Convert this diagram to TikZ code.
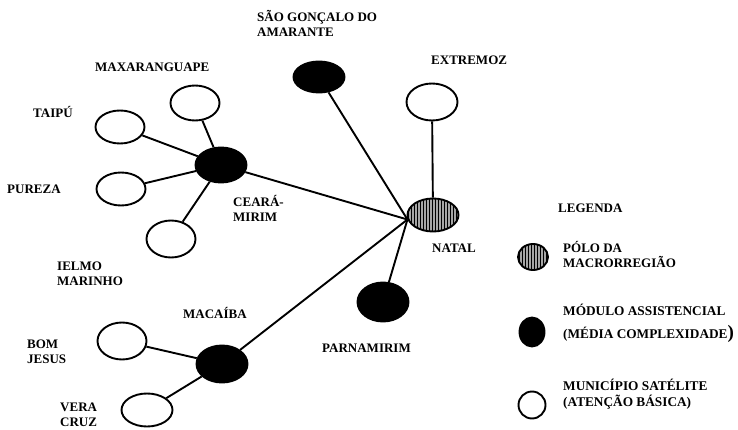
\documentclass[tikz,border=0pt]{standalone}
\usepackage{fontspec}
\newfontfamily\lbl{Liberation Serif Bold}
\usetikzlibrary{shapes.geometric,patterns}
\begin{document}
\begin{tikzpicture}[x=1pt,y=-1pt,
  lab/.style={font=\lbl\fontsize{13}{15}\selectfont, inner sep=0pt, anchor=base west, align=left},
  town/.style={ellipse, draw, line width=1.9pt, inner sep=0pt},
  sat/.style={town, fill=white},
  mod/.style={town, fill=black},
  polo/.style={town, fill=gray!70, postaction={pattern=vertical lines, pattern color=black}},
  conn/.style={line width=1.9pt}]
\useasboundingbox (0,0) rectangle (738,430);

% nodes
\node[mod, minimum width=51pt, minimum height=31pt] (sg) at (319,77) {};
\node[sat, minimum width=49pt, minimum height=35pt] (max) at (195,103) {};
\node[sat, minimum width=49pt, minimum height=33pt] (taipu) at (120,127) {};
\node[sat, minimum width=49pt, minimum height=33pt] (pureza) at (121,189) {};
\node[mod, minimum width=51pt, minimum height=35pt] (ceara) at (221,165) {};
\node[sat, minimum width=49pt, minimum height=37pt] (ielmo) at (171,239) {};
\node[sat, minimum width=51pt, minimum height=37pt] (extremoz) at (432,102) {};
\node[polo, minimum width=51pt, minimum height=33pt] (natal) at (433,215) {};
\node[mod, minimum width=51pt, minimum height=39pt] (parna) at (383,302) {};
\node[mod, minimum width=51pt, minimum height=37pt] (macaiba) at (222,364) {};
\node[sat, minimum width=49pt, minimum height=37pt] (bom) at (122,341) {};
\node[sat, minimum width=51pt, minimum height=33pt] (vera) at (147,410) {};

\coordinate (hub) at (natal.190);

% connectors
\draw[conn] (ceara) -- (max);
\draw[conn] (ceara) -- (taipu);
\draw[conn] (ceara) -- (pureza);
\draw[conn] (ceara) -- (ielmo);
\draw[conn] (ceara) -- (hub);
\draw[conn] (macaiba) -- (bom);
\draw[conn] (macaiba) -- (vera);
\draw[conn] (macaiba) -- (hub);
\draw[conn] (sg) -- (hub);
\draw[conn] (parna) -- (hub);
\draw[conn] (extremoz) -- (natal);

% labels
\node[lab] (tsg) at (257,37) {SÃO GONÇALO DO\\AMARANTE};
\node[lab] (tmax) at (95,72) {MAXARANGUAPE};
\node[lab] (ttaipu) at (33,118) {TAIPÚ};
\node[lab] (tpureza) at (7,194) {PUREZA};
\node[lab] (tceara) at (233,222) {CEARÁ-\\MIRIM};
\node[lab] (text) at (431,65) {EXTREMOZ};
\node[lab] (tnatal) at (432,252) {NATAL};
\node[lab] (tparna) at (322,352) {PARNAMIRIM};
\node[lab] (tielmo) at (57,285) {IELMO\\MARINHO};
\node[lab] (tmac) at (183,318) {MACAÍBA};
\node[lab] (tbom) at (27,363) {BOM\\JESUS};
\node[lab] (tvera) at (60,426) {VERA\\CRUZ};

% legend
\node[lab] (tleg) at (558,213) {LEGENDA};
\node[polo, minimum width=30pt, minimum height=26pt] (lp) at (533,257) {};
\node[mod, minimum width=25pt, minimum height=29pt] (lm) at (532,332) {};
\node[sat, minimum width=27pt, minimum height=27pt] (ls) at (532,405) {};
\node[lab] (tlp) at (563,267) {PÓLO DA\\MACRORREGIÃO};
\node[lab, font=\lbl\fontsize{13.3}{23}\selectfont] (tlm) at (563,338) {MÓDULO ASSISTENCIAL\\(MÉDIA COMPLEXIDADE{\fontsize{19}{19}\selectfont)}};
\node[lab, font=\lbl\fontsize{13.3}{16}\selectfont] (tls) at (563,406) {MUNICÍPIO SATÉLITE\\(ATENÇÃO BÁSICA)};
\end{tikzpicture}
\end{document}
